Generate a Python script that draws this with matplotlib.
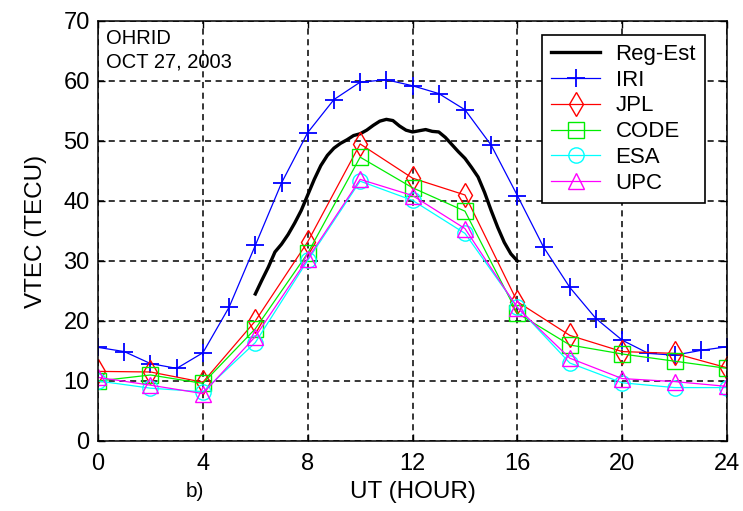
import numpy as np
import matplotlib
matplotlib.use("Agg")
import matplotlib.pyplot as plt

plt.rcParams['font.family'] = ['Liberation Sans', 'DejaVu Sans']

# Regional estimate, quarter-hour values
reg_hours = [6.0, 6.25, 6.5, 6.75, 7.0, 7.25, 7.5, 7.75, 8.0, 8.25, 8.5, 8.75,
             9.0, 9.25, 9.5, 9.75, 10.0, 10.25, 10.5, 10.75, 11.0, 11.25, 11.5,
             11.75, 12.0, 12.25, 12.5, 12.75, 13.0, 13.25, 13.5, 13.75, 14.0,
             14.25, 14.5, 14.75, 15.0, 15.25, 15.5, 15.75, 16.0]
reg_est = [24.5, 26.8, 29.0, 31.5, 32.8, 34.4, 36.3, 38.4, 41.0, 43.6, 45.9, 47.6,
           48.8, 49.6, 50.2, 50.9, 51.2, 51.8, 52.6, 53.3, 53.6, 53.4, 52.5,
           51.8, 51.5, 51.7, 51.9, 51.6, 51.5, 50.6, 49.4, 48.2, 47.1,
           45.6, 44.0, 41.4, 38.4, 35.6, 33.1, 31.2, 30.0]

iri_hours = list(range(0, 25))
iri = [15.6, 14.9, 12.9, 12.1, 14.7, 22.3, 32.6, 43.0, 51.4, 56.9, 59.8, 60.2, 59.2,
       57.9, 55.2, 49.3, 40.9, 32.3, 25.6, 20.4, 16.8, 14.6, 14.3, 15.1, 15.7]

gim_hours = list(range(0, 25, 2))
jpl = [11.6, 11.5, 9.8, 20.0, 33.2, 49.5, 43.8, 41.0, 23.2, 17.6, 14.9, 14.6, 12.2]
code = [10.0, 11.0, 9.6, 18.7, 31.3, 47.3, 42.2, 38.3, 21.3, 16.0, 14.5, 13.3, 12.1]
esa = [10.0, 8.8, 8.2, 16.4, 30.1, 43.3, 40.1, 34.6, 22.3, 13.0, 9.7, 8.9, 8.9]
upc = [10.6, 9.3, 7.9, 17.4, 30.4, 43.6, 40.9, 35.4, 22.2, 13.8, 10.4, 9.9, 9.1]

fig = plt.figure(figsize=(7.43, 5.11), dpi=100)
ax = fig.add_axes([0.132, 0.137, 0.8465, 0.822])

ax.plot(reg_hours, reg_est, color='black', lw=2.4, label='Reg-Est')
ax.plot(iri_hours, iri, color='blue', lw=0.9, marker='+', ms=13, mew=1.3, label='IRI')
ax.plot(gim_hours, jpl, color='red', lw=0.9, marker='d', ms=12, mfc='none', mew=1.0, label='JPL')
ax.plot(gim_hours, code, color='#00ee00', lw=0.9, marker='s', ms=11, mfc='none', mew=1.0, label='CODE')
ax.plot(gim_hours, esa, color='cyan', lw=0.9, marker='o', ms=11, mfc='none', mew=1.0, label='ESA')
ax.plot(gim_hours, upc, color='magenta', lw=0.9, marker='^', ms=12, mfc='none', mew=1.0, label='UPC')

ax.set_xlim(0, 24)
ax.set_ylim(0, 70)
ax.set_xticks(range(0, 25, 4))
ax.set_yticks(range(0, 71, 10))
ax.grid(True, color='black', ls=(0, (4, 3)), lw=1.1)
ax.tick_params(direction='in', top=True, right=True, length=5, width=1.0,
               labelsize=17)
ax.tick_params(axis='x', pad=9)
ax.tick_params(axis='y', pad=6)
for s in ax.spines.values():
    s.set_linewidth(1.1)

ax.set_xlabel('UT (HOUR)', fontsize=17.5, labelpad=4)
ax.set_ylabel('VTEC (TECU)', fontsize=17.5, labelpad=12)

ax.text(0.013, 0.982, 'OHRID\nOCT 27, 2003', transform=ax.transAxes, fontsize=14.5,
        va='top', ha='left', linespacing=1.3)
fig.text(0.262, 0.039, 'b)', fontsize=15, ha='center', va='center')

leg = ax.legend(loc='upper right', bbox_to_anchor=(0.965, 0.967), borderaxespad=0,
                fontsize=16, fancybox=False, framealpha=1, edgecolor='black',
                handlelength=2.2, handletextpad=0.7, labelspacing=0.22,
                borderpad=0.4)
leg.get_frame().set_linewidth(1.2)

fig.savefig('out.png', dpi=100)
